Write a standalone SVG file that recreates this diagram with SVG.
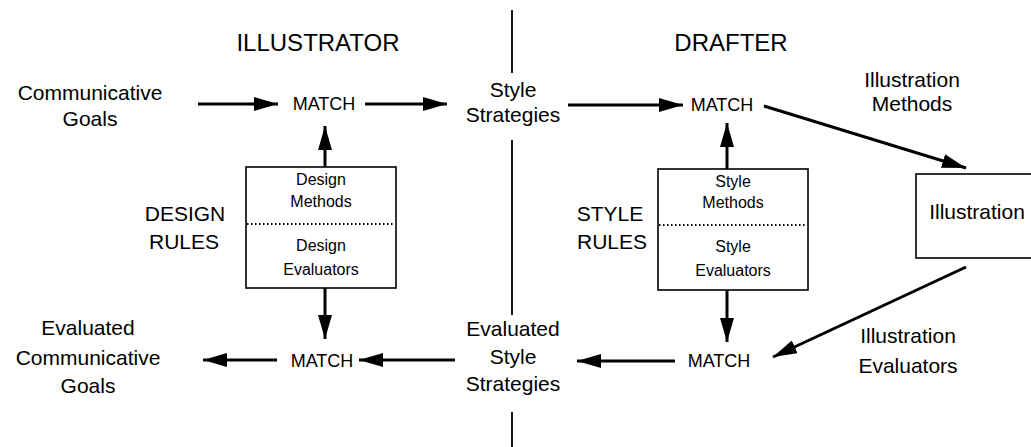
<svg xmlns="http://www.w3.org/2000/svg" width="1031" height="447" viewBox="0 0 1031 447">
<style>
text{font-family:"Liberation Sans",Arial,sans-serif;fill:#000;text-anchor:middle}
.t{font-size:24px}
.l{font-size:21px}
.m{font-size:18px}
.s{font-size:16px}
.c{stroke:#000;stroke-width:3;fill:none}
.b{stroke:#000;stroke-width:1.6;fill:#fff}
.d{stroke:#000;stroke-width:2;stroke-dasharray:1.5 2.5}
.v{stroke:#000;stroke-width:1.8}
</style>
<defs>
<marker id="ah" markerUnits="userSpaceOnUse" markerWidth="26" markerHeight="14" refX="24" refY="7" orient="auto">
<path d="M0,0 L24,7 L0,14 Z" fill="#000"/>
</marker>
</defs>
<g id="divider">
<line class="v" x1="512" y1="10" x2="512" y2="73"/>
<line class="v" x1="512" y1="140" x2="512" y2="315"/>
<line class="v" x1="512" y1="412" x2="512" y2="447"/>
</g>
<g id="titles">
<text class="t" x="318" y="51">ILLUSTRATOR</text>
<text class="t" x="731" y="51">DRAFTER</text>
</g>
<g id="comm-goals"><text class="l" x="90" y="100">Communicative</text><text class="l" x="90" y="126">Goals</text></g>
<g id="style-strategies"><text class="l" x="513" y="97">Style</text><text class="l" x="513" y="122">Strategies</text></g>
<g id="illus-methods"><text class="l" x="912" y="87">Illustration</text><text class="l" x="912" y="111">Methods</text></g>
<g id="match-tl"><text class="m" x="324" y="110">MATCH</text></g>
<g id="match-tr"><text class="m" x="722" y="111">MATCH</text></g>
<g id="match-bl"><text class="m" x="322" y="367">MATCH</text></g>
<g id="match-br"><text class="m" x="719" y="367">MATCH</text></g>
<g id="design-rules-label"><text class="l" x="185" y="221">DESIGN</text><text class="l" x="184" y="249">RULES</text></g>
<g id="style-rules-label"><text class="l" x="610" y="221">STYLE</text><text class="l" x="612" y="249">RULES</text></g>
<g id="design-rules">
<rect class="b" x="246" y="167" width="150" height="121"/>
<line class="d" x1="247" y1="224" x2="395" y2="224"/>
<text class="s" x="321" y="185">Design</text><text class="s" x="321" y="207">Methods</text>
<text class="s" x="321" y="251">Design</text><text class="s" x="321" y="275">Evaluators</text>
</g>
<g id="style-rules">
<rect class="b" x="658" y="169" width="150" height="121"/>
<line class="d" x1="659" y1="225" x2="807" y2="225"/>
<text class="s" x="733" y="187">Style</text><text class="s" x="733" y="208">Methods</text>
<text class="s" x="733" y="252">Style</text><text class="s" x="733" y="276">Evaluators</text>
</g>
<g id="illustration">
<rect class="b" x="916" y="174" width="130" height="84"/>
<text class="l" x="977" y="219">Illustration</text>
</g>
<g id="eval-comm-goals"><text class="l" x="88" y="335">Evaluated</text><text class="l" x="88" y="365">Communicative</text><text class="l" x="88" y="393">Goals</text></g>
<g id="eval-style-strategies"><text class="l" x="513" y="336">Evaluated</text><text class="l" x="513" y="364">Style</text><text class="l" x="513" y="391">Strategies</text></g>
<g id="illus-evaluators"><text class="l" x="908" y="343">Illustration</text><text class="l" x="908" y="373">Evaluators</text></g>
<g id="connectors">
<line class="c" x1="198" y1="104" x2="278" y2="104" marker-end="url(#ah)"/>
<line class="c" x1="365" y1="104" x2="447" y2="104" marker-end="url(#ah)"/>
<line class="c" x1="568" y1="105" x2="683" y2="105" marker-end="url(#ah)"/>
<line class="c" x1="764" y1="106" x2="966" y2="168" marker-end="url(#ah)"/>
<line class="c" x1="325" y1="167" x2="325" y2="126" marker-end="url(#ah)"/>
<line class="c" x1="727" y1="169" x2="727" y2="123" marker-end="url(#ah)"/>
<line class="c" x1="325" y1="288" x2="325" y2="339" marker-end="url(#ah)"/>
<line class="c" x1="727" y1="290" x2="727" y2="342" marker-end="url(#ah)"/>
<line class="c" x1="455" y1="360" x2="359" y2="360" marker-end="url(#ah)"/>
<line class="c" x1="277" y1="360" x2="203" y2="360" marker-end="url(#ah)"/>
<line class="c" x1="675" y1="361" x2="577" y2="361" marker-end="url(#ah)"/>
<line class="c" x1="966" y1="267" x2="773" y2="357" marker-end="url(#ah)"/>
</g>
</svg>
